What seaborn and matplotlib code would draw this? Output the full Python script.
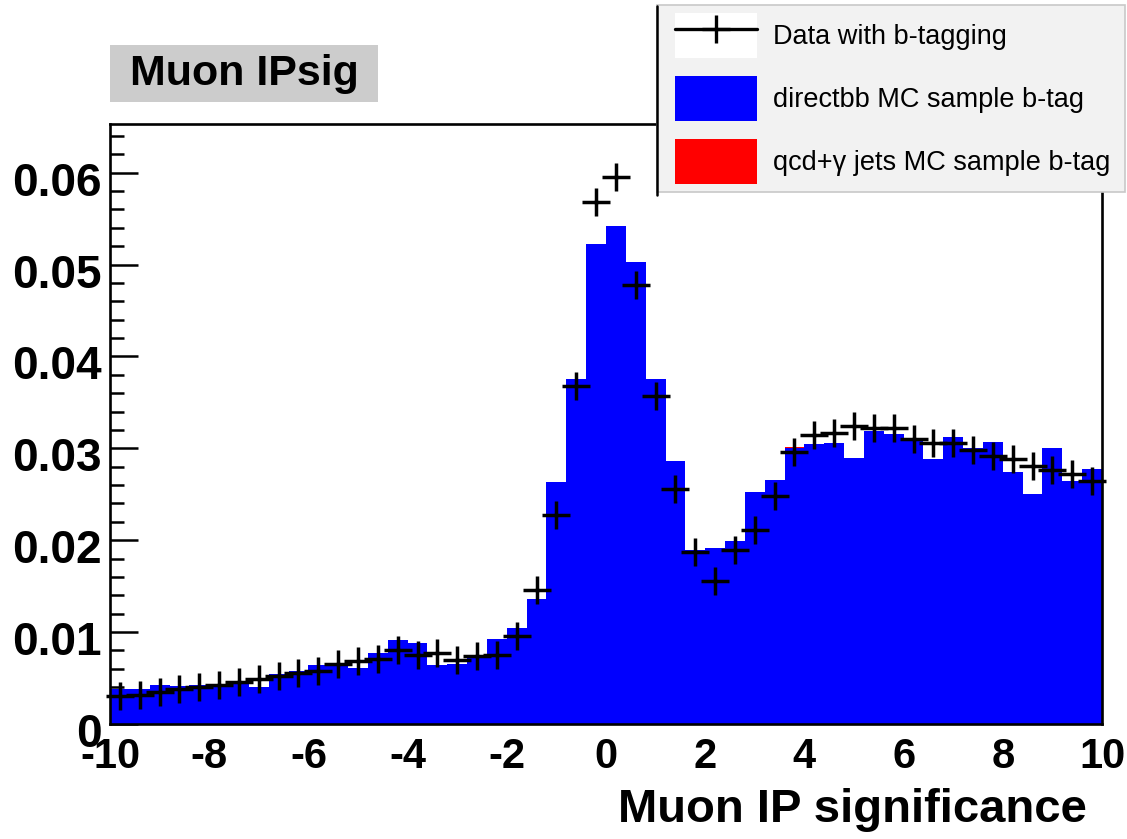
import numpy as np
import pandas as pd
import matplotlib
matplotlib.use("Agg")
import matplotlib.pyplot as plt
import matplotlib.transforms as mtransforms
from matplotlib import font_manager
from matplotlib.patches import Rectangle, Patch
from matplotlib.lines import Line2D
from matplotlib.legend_handler import HandlerTuple, HandlerPatch
from matplotlib.ticker import FixedLocator, MultipleLocator, FuncFormatter
import seaborn as sns

# ---- histogram content: 50 bins of width 0.4 between -10 and 10 ----
x_range = (-10.0, 10.0)
n_bins = 50

# normalised MC prediction, direct bb sample (b-tagged)
directbb = [
    0.0038, 0.0038, 0.0042, 0.0041, 0.0042, 0.0044, 0.00465, 0.0040, 0.00545, 0.0058,
    0.0064, 0.0065, 0.0061, 0.0077, 0.0091, 0.0088, 0.0064, 0.0065, 0.0075, 0.0092,
    0.0104, 0.0136, 0.0263, 0.0376, 0.0522, 0.0542, 0.0503, 0.0376, 0.0286, 0.0189,
    0.0192, 0.0199, 0.0252, 0.0266, 0.0300, 0.0305, 0.0306, 0.0290, 0.0319, 0.0316,
    0.0308, 0.0288, 0.0312, 0.0300, 0.0307, 0.0274, 0.0250, 0.0300, 0.0264, 0.0277,
]

# qcd + gamma jets MC sample (b-tagged), stacked on top
qcd_gamma = [
    0.0, 0.0, 0.0, 0.0, 0.0, 0.0, 0.0, 0.0, 0.0, 0.0,
    0.0, 0.0, 0.0, 0.0, 0.0, 0.0, 0.0, 0.0, 0.0, 0.0,
    0.0, 0.0, 0.0, 0.0, 0.0, 0.0, 0.0, 0.0, 0.0, 0.0,
    0.0, 0.0, 0.0, 0.0, 0.0002, 0.0, 0.0, 0.0, 0.0, 0.0,
    0.0002, 0.0, 0.0, 0.0, 0.0, 0.0, 0.0, 0.0, 0.0, 0.0,
]

# data with b-tagging
data_btag = [
    0.0030, 0.0032, 0.0035, 0.0038, 0.0040, 0.0042, 0.0046, 0.0049, 0.0052, 0.0056,
    0.0058, 0.0065, 0.0069, 0.0071, 0.0080, 0.0075, 0.0077, 0.0070, 0.0074, 0.0075,
    0.0096, 0.0146, 0.0228, 0.0368, 0.0568, 0.0595, 0.0478, 0.0357, 0.0256, 0.0187,
    0.0156, 0.0189, 0.0211, 0.0248, 0.0296, 0.0314, 0.0317, 0.0324, 0.0322, 0.0322,
    0.0310, 0.0306, 0.0306, 0.0298, 0.0292, 0.0288, 0.0281, 0.0276, 0.0272, 0.0264,
]

x_ticks = [-10, -8, -6, -4, -2, 0, 2, 4, 6, 8, 10]
y_ticks = [0.0, 0.01, 0.02, 0.03, 0.04, 0.05, 0.06]
y_max = 0.0653

label_data = "Data with b-tagging"
label_bb = "directbb MC sample b-tag"
label_qcd = "qcd+\u03b3 jets MC sample b-tag"

# ---- style ----
sns.set_style("ticks")
available = {f.name for f in font_manager.fontManager.ttflist}
base_font = "Liberation Sans" if "Liberation Sans" in available else "DejaVu Sans"
plt.rcParams["font.family"] = [base_font, "DejaVu Sans"]
for key in ["text.color", "axes.labelcolor", "xtick.color", "ytick.color",
            "xtick.labelcolor", "ytick.labelcolor"]:
    plt.rcParams[key] = "black"

W, H = 1127, 839
fig = plt.figure(figsize=(W / 100, H / 100), dpi=100, facecolor="white")
ax = fig.add_axes([110 / W, (H - 724) / H, 992 / W, 600 / H])

edges = np.linspace(x_range[0], x_range[1], n_bins + 1)
centers = 0.5 * (edges[:-1] + edges[1:])

hist_df = pd.DataFrame({
    "x": np.concatenate([centers, centers]),
    "w": np.concatenate([directbb, qcd_gamma]),
    "sample": [label_bb] * n_bins + [label_qcd] * n_bins,
})

# seaborn stacks the last hue level at the bottom
sns.histplot(
    data=hist_df, x="x", weights="w", hue="sample",
    hue_order=[label_qcd, label_bb], bins=edges.tolist(),
    multiple="stack", element="step", fill=True, alpha=1.0, linewidth=0,
    palette={label_bb: "#0000ff", label_qcd: "#ff0000"},
    legend=False, ax=ax,
)
for coll in ax.collections:
    coll.set_zorder(2)

ax.plot(centers, data_btag, linestyle="none", marker="+", markersize=20,
        markeredgewidth=2.5, color="black", zorder=4, clip_on=False)

ax.set_xlim(*x_range)
ax.set_ylim(0, y_max)
ax.set_axisbelow(True)
ax.set_ylabel("")

# frame
for side in ["left", "right", "top", "bottom"]:
    ax.spines[side].set_visible(True)
    ax.spines[side].set_color("black")
    ax.spines[side].set_linewidth(1.9)
    ax.spines[side].set_zorder(3)

# y axis: inward ticks, bold labels
ax.yaxis.set_major_locator(FixedLocator(y_ticks))
ax.yaxis.set_minor_locator(MultipleLocator(0.002))
ax.yaxis.set_major_formatter(FuncFormatter(lambda v, p: "0" if abs(v) < 1e-9 else f"{v:.2f}"))
ax.tick_params(axis="y", which="major", direction="in", length=20, width=1.8,
               labelsize=33, pad=6, left=True, right=False)
ax.tick_params(axis="y", which="minor", direction="in", length=10, width=1.8,
               left=True, right=False)

# x axis labels
ax.set_xticks(x_ticks)
ax.set_xticklabels([str(t) for t in x_ticks])
ax.tick_params(axis="x", which="both", length=0, pad=9, labelsize=30)
ax.xaxis.set_minor_locator(plt.NullLocator())

ax.set_xlabel("Muon IP significance", fontsize=34, fontweight="bold",
              ha="right", va="top")
ax.xaxis.set_label_coords((1087 - 110) / 992, -(788 - 724) / 600)

# title box
fig.add_artist(Rectangle((110 / W, 1 - 102 / H), 268 / W, 57 / H,
                         transform=fig.transFigure, facecolor="#cccccc",
                         edgecolor="none", zorder=5))
fig.text(244 / W, 1 - 74 / H, "Muon IPsig", ha="center", va="center",
         fontsize=31, fontweight="bold", zorder=6)

# legend
data_handle = (Patch(facecolor="white", edgecolor="none"),
               Line2D([], [], color="black", lw=2.4, marker="+", markersize=20,
                      markeredgewidth=2.4))
bb_handle = Patch(facecolor="#0000ff", edgecolor="none")
qcd_handle = Patch(facecolor="#ff0000", edgecolor="none")

leg = fig.legend(
    [data_handle, bb_handle, qcd_handle], [label_data, label_bb, label_qcd],
    handler_map={tuple: HandlerTuple(ndivide=1, pad=0, xpad=0.37),
                 Patch: HandlerPatch(xpad=0.37)},
    loc="upper left", bbox_to_anchor=(657 / W, 1 - 195 / H, 468 / W, 190 / H),
    mode="expand", borderaxespad=0, fontsize=19.5, frameon=True, fancybox=False,
    facecolor="#f2f2f2", edgecolor="#c8c8c8", framealpha=1.0,
    handlelength=3.4, handleheight=2.18, handletextpad=0.59,
    labelspacing=0.665, borderpad=0.3,
)
leg.get_frame().set_linewidth(1.2)
leg.set_zorder(7)
fig.add_artist(Line2D([657 / W, 657 / W], [1 - 195 / H, 1 - 6 / H],
                      transform=fig.transFigure, color="black", lw=1.8, zorder=8))

# bold tick labels; y labels sit slightly below their ticks
for lab in ax.get_xticklabels() + ax.get_yticklabels():
    lab.set_fontweight("bold")
shift = mtransforms.ScaledTranslation(0, -6 / 100, fig.dpi_scale_trans)
for tick in ax.yaxis.get_major_ticks():
    tick.label1.set_transform(tick.label1.get_transform() + shift)

fig.savefig("out.png", dpi=100, facecolor="white")
